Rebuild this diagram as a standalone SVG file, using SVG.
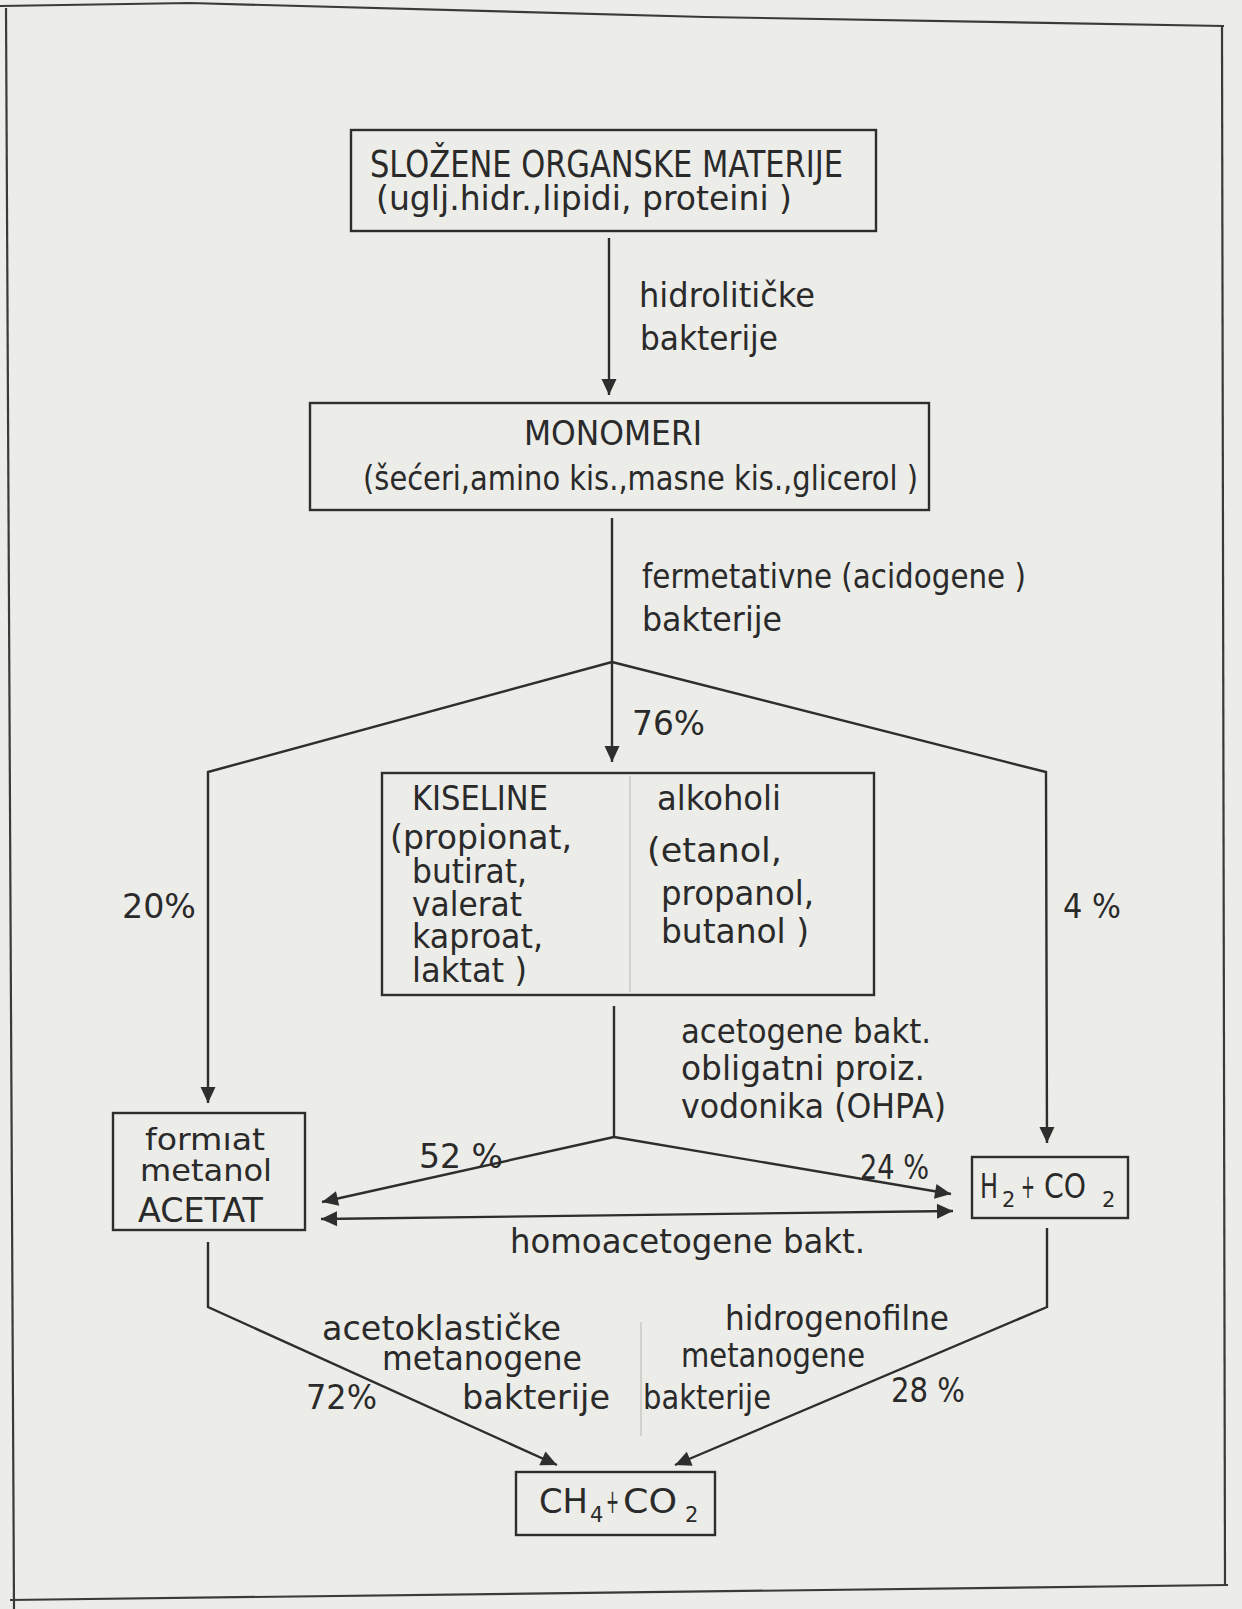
<svg xmlns="http://www.w3.org/2000/svg" width="1242" height="1609" viewBox="0 0 1242 1609">
<style>
.t{font-family:"DejaVu Sans","Liberation Sans",sans-serif;font-size:33px;fill:#2a2a2a}
.big{font-size:38px}
.sm{font-size:31px}
.sub{font-size:21px}
.box{fill:none;stroke:#2e2e2e;stroke-width:2.4}
.ln{fill:none;stroke:#2e2e2e;stroke-width:2.4}
.faint{fill:none;stroke:#c9c9c4;stroke-width:1.5}
.frame{fill:none;stroke:#3a3a3a;stroke-width:2.2}
</style>
<defs>
<marker id="ah" markerUnits="userSpaceOnUse" markerWidth="20" markerHeight="20" viewBox="0 0 20 20" refX="18" refY="10" orient="auto-start-reverse">
<path d="M2,2.5 L18,10 L2,17.5 Z" fill="#2e2e2e"/>
</marker>
</defs>
<rect x="0" y="0" width="1242" height="1609" fill="#ecece8"/>
<g id="frame">
<path class="frame" d="M0,6 L190,3 L705,17 L1224,26"/>
<path class="frame" d="M6,8 L14,1609"/>
<path class="frame" d="M1222,26 L1225,1585"/>
<path class="frame" d="M1228,1585 L10,1600"/>
</g>
<g id="connectors">
<line class="ln" x1="609" y1="238" x2="609" y2="395" marker-end="url(#ah)"/>
<line class="ln" x1="612" y1="518" x2="612" y2="662"/>
<line class="ln" x1="612" y1="662" x2="612" y2="762" marker-end="url(#ah)"/>
<polyline class="ln" points="612,662 208,772 208,1103" marker-end="url(#ah)"/>
<polyline class="ln" points="612,662 1046,772 1047,1143" marker-end="url(#ah)"/>
<line class="ln" x1="614" y1="1006" x2="614" y2="1137"/>
<line class="ln" x1="614" y1="1137" x2="322" y2="1202" marker-end="url(#ah)"/>
<line class="ln" x1="614" y1="1137" x2="951" y2="1194" marker-end="url(#ah)"/>
<line class="ln" x1="321" y1="1219" x2="953" y2="1211" marker-start="url(#ah)" marker-end="url(#ah)"/>
<polyline class="ln" points="208,1242 208,1307 557,1465" marker-end="url(#ah)"/>
<polyline class="ln" points="1047,1228 1047,1307 675,1465" marker-end="url(#ah)"/>
<line class="faint" x1="641" y1="1322" x2="641" y2="1436"/>
</g>
<g id="n-slozene">
<rect class="box" x="351" y="130" width="525" height="101"/>
<text class="t big" x="370" y="177" textLength="473" lengthAdjust="spacingAndGlyphs">SLOŽENE ORGANSKE MATERIJE</text>
<text class="t" x="376" y="210" textLength="416" lengthAdjust="spacingAndGlyphs">(uglj.hidr.,lipidi, proteini )</text>
</g>
<g id="l-hidroliticke">
<text class="t" x="639" y="307" textLength="176" lengthAdjust="spacingAndGlyphs">hidrolitičke</text>
<text class="t" x="640" y="350" textLength="138" lengthAdjust="spacingAndGlyphs">bakterije</text>
</g>
<g id="n-monomeri">
<rect class="box" x="310" y="403" width="619" height="107"/>
<text class="t" x="524" y="445" textLength="178" lengthAdjust="spacingAndGlyphs">MONOMERI</text>
<text class="t" x="363" y="490" textLength="555" lengthAdjust="spacingAndGlyphs">(šećeri,amino kis.,masne kis.,glicerol )</text>
</g>
<g id="l-fermetativne">
<text class="t" x="642" y="588" textLength="384" lengthAdjust="spacingAndGlyphs">fermetativne (acidogene )</text>
<text class="t" x="642" y="631" textLength="140" lengthAdjust="spacingAndGlyphs">bakterije</text>
</g>
<g id="l-pct">
<text class="t" x="632" y="735" textLength="73" lengthAdjust="spacingAndGlyphs">76%</text>
<text class="t" x="122" y="918" textLength="74" lengthAdjust="spacingAndGlyphs">20%</text>
<text class="t" x="1063" y="918" textLength="58" lengthAdjust="spacingAndGlyphs">4 %</text>
<text class="t" x="419" y="1168" textLength="84" lengthAdjust="spacingAndGlyphs">52 %</text>
<text class="t" x="860" y="1179" textLength="69" lengthAdjust="spacingAndGlyphs">24 %</text>
<text class="t" x="306" y="1409" textLength="71" lengthAdjust="spacingAndGlyphs">72%</text>
<text class="t" x="891" y="1402" textLength="74" lengthAdjust="spacingAndGlyphs">28 %</text>
</g>
<g id="n-kiseline">
<rect class="box" x="382" y="773" width="492" height="222"/>
<line class="faint" x1="630" y1="776" x2="630" y2="992"/>
<text class="t" x="412" y="810" textLength="136" lengthAdjust="spacingAndGlyphs">KISELINE</text>
<text class="t" x="390" y="849" textLength="182" lengthAdjust="spacingAndGlyphs">(propionat,</text>
<text class="t" x="412" y="883" textLength="115" lengthAdjust="spacingAndGlyphs">butirat,</text>
<text class="t" x="412" y="916" textLength="110" lengthAdjust="spacingAndGlyphs">valerat</text>
<text class="t" x="412" y="948" textLength="131" lengthAdjust="spacingAndGlyphs">kaproat,</text>
<text class="t" x="412" y="982" textLength="115" lengthAdjust="spacingAndGlyphs">laktat )</text>
<text class="t" x="657" y="810" textLength="124" lengthAdjust="spacingAndGlyphs">alkoholi</text>
<text class="t" x="647" y="862" textLength="135" lengthAdjust="spacingAndGlyphs">(etanol,</text>
<text class="t" x="661" y="905" textLength="153" lengthAdjust="spacingAndGlyphs">propanol,</text>
<text class="t" x="661" y="943" textLength="148" lengthAdjust="spacingAndGlyphs">butanol )</text>
</g>
<g id="l-acetogene">
<text class="t" x="681" y="1043" textLength="250" lengthAdjust="spacingAndGlyphs">acetogene bakt.</text>
<text class="t" x="681" y="1080" textLength="244" lengthAdjust="spacingAndGlyphs">obligatni proiz.</text>
<text class="t" x="681" y="1118" textLength="265" lengthAdjust="spacingAndGlyphs">vodonika (OHPA)</text>
</g>
<g id="n-formiat">
<rect class="box" x="113" y="1113" width="192" height="117"/>
<text class="t sm" x="145" y="1150" textLength="120" lengthAdjust="spacingAndGlyphs">formıat</text>
<text class="t sm" x="140" y="1181" textLength="132" lengthAdjust="spacingAndGlyphs">metanol</text>
<text class="t" x="138" y="1222" textLength="125" lengthAdjust="spacingAndGlyphs">ACETAT</text>
</g>
<g id="n-h2co2">
<rect class="box" x="972" y="1157" width="156" height="61"/>
<text class="t" x="980" y="1198" textLength="18" lengthAdjust="spacingAndGlyphs">H</text>
<text class="t sub" x="1002" y="1207">2</text>
<text class="t" x="1021" y="1198" textLength="14" lengthAdjust="spacingAndGlyphs">+</text>
<text class="t" x="1044" y="1198" textLength="42" lengthAdjust="spacingAndGlyphs">CO</text>
<text class="t sub" x="1102" y="1207">2</text>
</g>
<g id="l-homo">
<text class="t" x="510" y="1253" textLength="355" lengthAdjust="spacingAndGlyphs">homoacetogene bakt.</text>
</g>
<g id="l-acetoklasticke">
<text class="t" x="322" y="1340" textLength="239" lengthAdjust="spacingAndGlyphs">acetoklastičke</text>
<text class="t" x="382" y="1370" textLength="200" lengthAdjust="spacingAndGlyphs">metanogene</text>
<text class="t" x="462" y="1409" textLength="148" lengthAdjust="spacingAndGlyphs">bakterije</text>
</g>
<g id="l-hidrogenofilne">
<text class="t" x="725" y="1330" textLength="224" lengthAdjust="spacingAndGlyphs">hidrogenofilne</text>
<text class="t" x="681" y="1367" textLength="184" lengthAdjust="spacingAndGlyphs">metanogene</text>
<text class="t" x="643" y="1409" textLength="128" lengthAdjust="spacingAndGlyphs">bakterije</text>
</g>
<g id="n-ch4co2">
<rect class="box" x="516" y="1472" width="199" height="63"/>
<text class="t" x="539" y="1513" textLength="49" lengthAdjust="spacingAndGlyphs">CH</text>
<text class="t sub" x="590" y="1522">4</text>
<text class="t" x="606" y="1513" textLength="13" lengthAdjust="spacingAndGlyphs">+</text>
<text class="t" x="623" y="1513" textLength="54" lengthAdjust="spacingAndGlyphs">CO</text>
<text class="t sub" x="685" y="1522">2</text>
</g>
</svg>
